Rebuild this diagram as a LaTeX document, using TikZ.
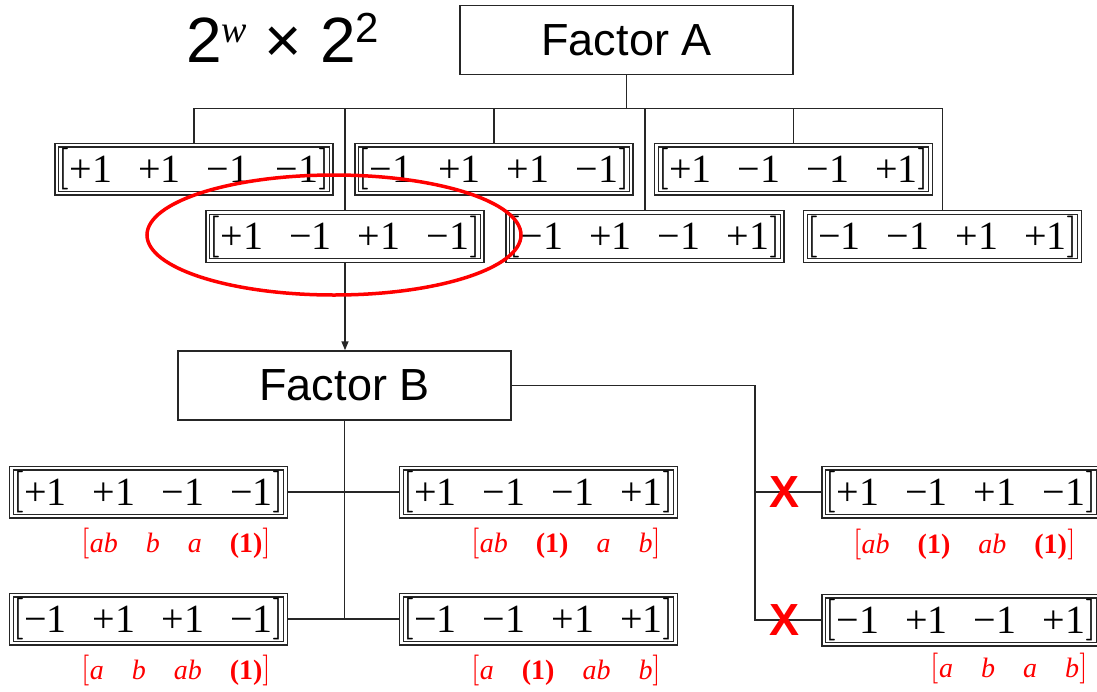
\documentclass[tikz,border=0pt]{standalone}
\usepackage{fontspec}
\usepackage{unicode-math}
\setmainfont{Liberation Sans}
\newfontfamily\vecfont{Liberation Serif}
\usetikzlibrary{arrows.meta, positioning}

\newcommand{\vecrow}[4]{$\left[\vcenter{\hbox{\rule[-9pt]{0pt}{44pt}\fontsize{40}{40}\vecfont #1\hspace{26pt}#2\hspace{26pt}#3\hspace{26pt}#4}}\right]$}
\newcommand{\tagrow}[4]{$\left[\vcenter{\hbox{\rule[-8pt]{0pt}{34pt}\fontsize{28}{28}\vecfont #1\quad #2\quad #3\quad #4}}\right]$}
\newcommand{\onebf}{\textbf{(1)}}

\begin{document}
\begin{tikzpicture}[
    x=1pt, y=-1pt,
    head/.style={
        draw=black!85,
        line width=1.5pt,
        minimum width=333pt,
        minimum height=69pt,
        font=\fontsize{45}{45}\selectfont
    },
    vec/.style={
        draw=black!85,
        line width=1.4pt,
        double,
        double distance=2.2pt,
        minimum width=273pt,
        minimum height=48pt,
        inner sep=0pt,
        outer sep=2.5pt,
        font=\fontsize{38}{38}\selectfont
    },
    tag/.style={
        text=red,
        inner sep=0pt,
        outer sep=0pt,
        font=\fontsize{28}{28}\selectfont
    },
    link/.style={
        draw=black!85,
        line width=1.5pt
    },
    arrow/.style={
        link,
        -{Triangle[length=9pt,width=7pt]}
    },
    cross/.style={
        text=red,
        inner sep=0pt,
        font=\fontsize{45}{45}\selectfont\bfseries
    },
    ring/.style={
        draw=red,
        line width=3.5pt
    }
]
\useasboundingbox (0,0) rectangle (1097,691);

% Titre
\node[anchor=base west, inner sep=0pt, font=\fontsize{64}{64}\selectfont] (title) at (186,62)
    {2\raisebox{20pt}{\fontsize{38}{38}\vecfont\itshape w} × 2\raisebox{20pt}{\fontsize{42}{42}\selectfont 2}};

% Facteur A
\node[head] (fa) at (626.5,40) {Factor A};
\node[vec] (a1) at (194,169) {\vecrow{+1}{+1}{−1}{−1}};
\node[vec] (a2) at (494,169) {\vecrow{−1}{+1}{+1}{−1}};
\node[vec] (a3) at (793.5,169) {\vecrow{+1}{−1}{−1}{+1}};
\node[vec] (a4) at (345,236.5) {\vecrow{+1}{−1}{+1}{−1}};
\node[vec] (a5) at (645,236.5) {\vecrow{−1}{+1}{−1}{+1}};
\node[vec] (a6) at (942.5,236.5) {\vecrow{−1}{−1}{+1}{+1}};

% Facteur B
\node[head] (fb) at (344.5,385.5) {Factor B};
\node[vec] (b1) at (148.5,492) {\vecrow{+1}{+1}{−1}{−1}};
\node[vec] (b2) at (538.5,492) {\vecrow{+1}{−1}{−1}{+1}};
\node[vec] (b3) at (148.5,619) {\vecrow{−1}{+1}{+1}{−1}};
\node[vec] (b4) at (538.5,619) {\vecrow{−1}{−1}{+1}{+1}};
\node[vec] (r1) at (961,492) {\vecrow{+1}{−1}{+1}{−1}};
\node[vec] (r2) at (961,620) {\vecrow{−1}{+1}{−1}{+1}};

% Liaisons
\coordinate[below=33pt of fa.south] (bus);
\draw[link] (fa.south) -- (bus);
\foreach \n in {1,...,6}
    \draw[link] (a\n.north) |- (bus);
\draw[arrow] (a4.south) -- (a4.south |- fb.north);

\draw[link] (fb.south) -- (fb.south |- b3.east);
\draw[link] (b1.east) -- (b2.west);
\draw[link] (b3.east) -- (b4.west);

\coordinate[right=243pt of fb.east] (fork);
\draw[link] (fb.east) -- (fork) |- (r2.west);
\draw[link] (fork |- r1.west) -- (r1.west);

% Combinaisons exclues
\node[cross, left=22pt of r1] (x1) {X};
\node[cross, left=22pt of r2] (x2) {X};

% Traitements
\node[tag, below left=7.5pt and 16pt of b1.south east] (b1t) {\tagrow{\textit{ab}}{\textit{b}}{\textit{a}}{\onebf}};
\node[tag, below left=7.5pt and 16pt of b2.south east] (b2t) {\tagrow{\textit{ab}}{\onebf}{\textit{a}}{\textit{b}}};
\node[tag, below left=7.5pt and 16pt of b3.south east] (b3t) {\tagrow{\textit{a}}{\textit{b}}{\textit{ab}}{\onebf}};
\node[tag, below left=7.5pt and 16pt of b4.south east] (b4t) {\tagrow{\textit{a}}{\onebf}{\textit{ab}}{\textit{b}}};
\node[tag, below left=9pt and 24pt of r1.south east] (r1t) {\tagrow{\textit{ab}}{\onebf}{\textit{ab}}{\onebf}};
\node[tag, below left=5pt and 12pt of r2.south east] (r2t) {\tagrow{\textit{a}}{\textit{b}}{\textit{a}}{\textit{b}}};

% Sélection
\draw[ring] (334,235) ellipse [x radius=187, y radius=60];

\end{tikzpicture}
\end{document}
